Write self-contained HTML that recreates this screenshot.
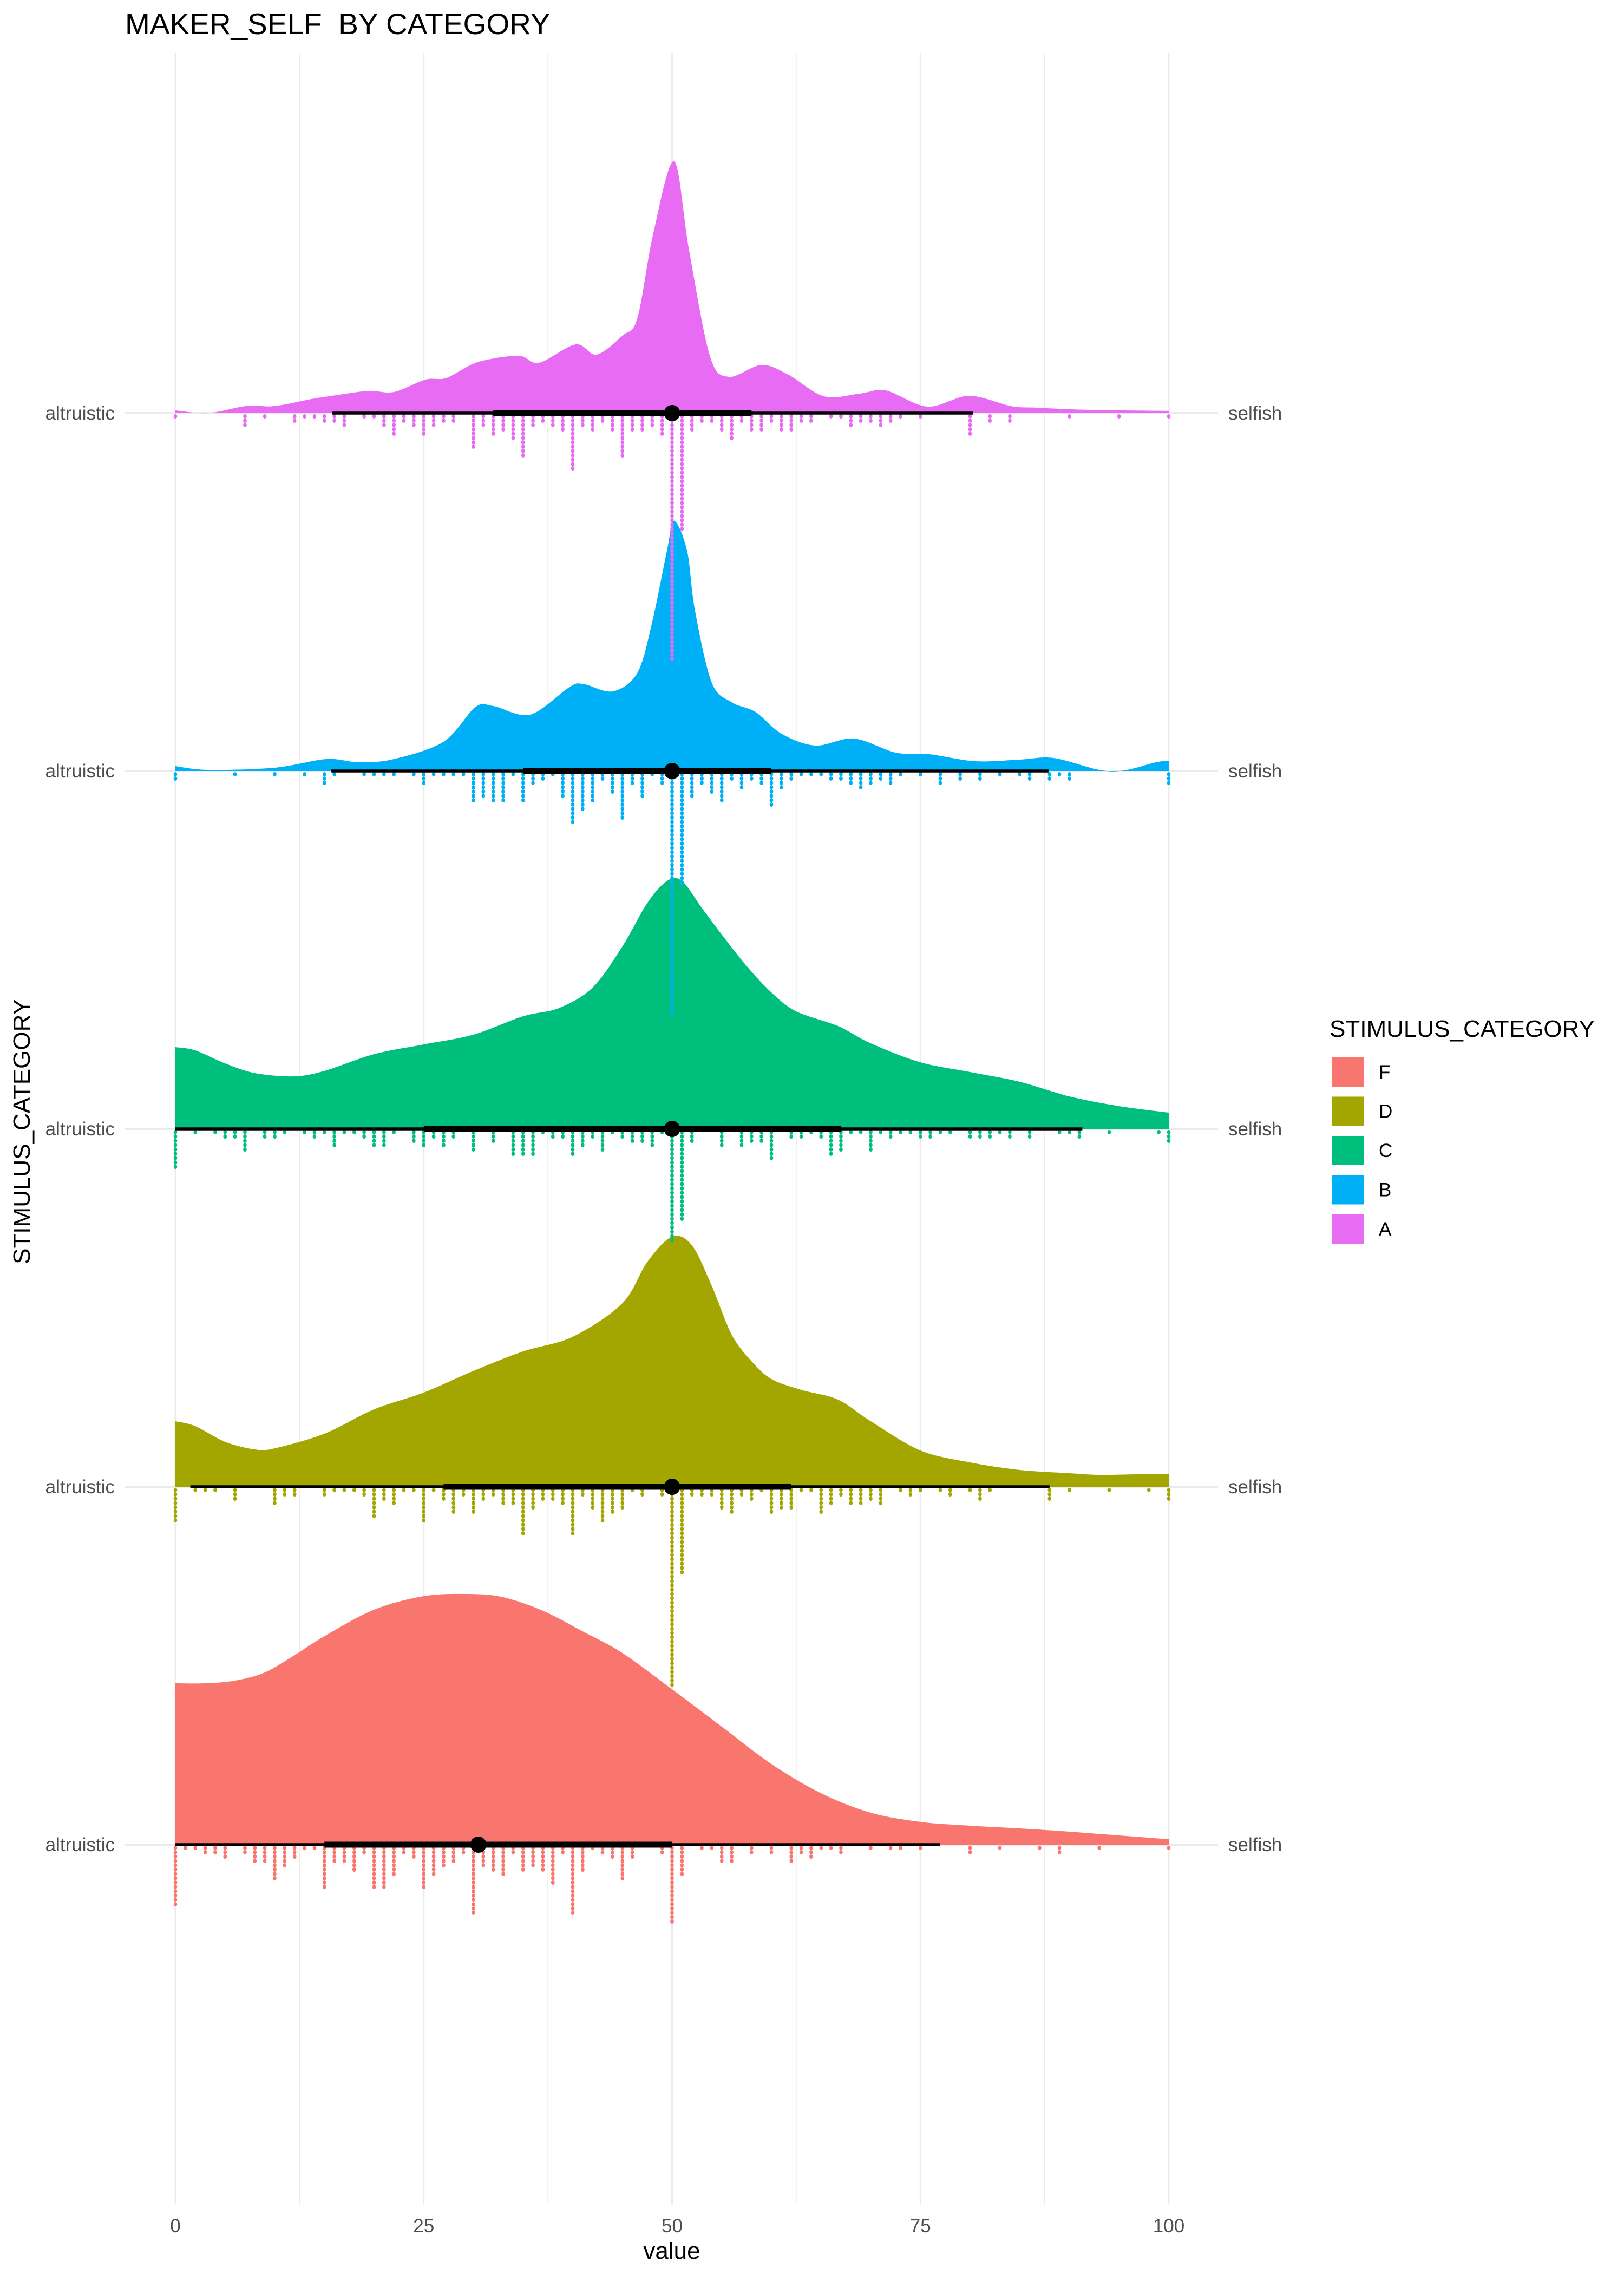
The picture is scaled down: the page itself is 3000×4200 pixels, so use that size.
<!DOCTYPE html>
<html><head><meta charset="utf-8"><style>
html,body{margin:0;padding:0;background:#fff;}
svg{display:block;font-family:"Liberation Sans",sans-serif;}
</style></head><body>
<svg id="chart" width="3000" height="4200" viewBox="0 0 3000 4200" xmlns="http://www.w3.org/2000/svg">
<rect width="3000" height="4200" fill="#fff"/>
<text x="231" y="63" font-size="55" fill="#000" xml:space="preserve" style="white-space:pre">MAKER_SELF  BY CATEGORY</text>
<g id="grid"></g>
<g id="rows"></g>
<g id="axes"></g>
<text x="1241" y="4172" font-size="44" text-anchor="middle" fill="#000">value</text>
<text transform="translate(55,2090) rotate(-90)" font-size="44" text-anchor="middle" fill="#000">STIMULUS_CATEGORY</text>
<g id="legend">
<text x="2456" y="1915" font-size="44" fill="#000">STIMULUS_CATEGORY</text>
</g>
</svg>
<script>
const categories = ["F","D","C","B","A"];
const colors = ["#F8766D","#A3A500","#00BF7D","#00B0F6","#E76BF3"];
const xTicks = [0,25,50,75,100];
const xTickLabels = ["0","25","50","75","100"];
const densA_x = [0,3.3,7.1,10,13.7,15.8,19.4,22,25.2,27.3,30.4,34.5,36.6,40.3,42.4,45,46.5,48.1,50.2,51.7,53.8,55.7,59,61.7,65.3,68.9,71.5,75.7,79.9,84.1,86.7,91.9,100];
const densA_y = [5,0,13,13,26,32,41,39,62,65,94,106,93,127,108,143,175,331,465,302,106,67,89,71,31,36,42,12,32,13,10,6,4];
const densB_x = [0,3.3,10,15.2,18.5,22,27,30.2,32,35.7,39.6,41,44,46.5,48,49.5,50.2,51.5,52.3,54,56,58.4,61,64.4,68.3,72.5,75.9,80.5,85,88.4,93,95.5,98.7,100];
const densB_y = [9,2,6,22,16,22,54,118,120,104,154,161,147,181,275,408,462,408,297,163,127,109,69,47,60,34,31,18,21,24,2,1,16,19];
const densC_x = [0,2,5,8,11.9,15,20,25,30,35,38.6,42,45,47.5,49.5,51,53,55,57.5,60,62.5,66.7,70,75,80,85,90,95,100];
const densC_y = [151,145,121,103,97,107,138,156,174,208,223,261,337,417,458,458,408,359,301,252,217,190,158,123,105,87,60,42,30];
const densD_x = [0,2,5,8,10,15,20,25,30,35,40,45,47.5,50,52,54,56,58,60,63,66.7,70,75,80,85,90,93,97,100];
const densD_y = [121,112,83,69,71,98,143,174,214,250,277,339,415,462,446,371,281,232,199,179,161,121,67,45,31,25,22,23,23];
const densF_x = [0,3,6,9,12,15,20,25,29.5,33,37,41,45,50,55,60,65,70,75,80,85,90,95,100];
const densF_y = [298,298,303,318,350,385,434,459,463,457,432,394,354,287,218,149,95,59,42,35,30,24,17,10];
const dotsF = [[0,14],[1,1],[2,1],[3,2],[4,2],[5,3],[7,2],[8,4],[9,4],[10,8],[11,5],[12,3],[13,1],[14,1],[15,10],[16,4],[17,4],[18,6],[19,2],[20,10],[21,10],[22,7],[23,2],[24,3],[25,10],[26,7],[27,5],[28,4],[29,2],[30,16],[31,5],[32,6],[33,7],[34,2],[35,6],[36,5],[37,6],[38,9],[39,2],[40,16],[41,6],[42,1],[43,2],[44,3],[45,8],[46,3],[49,2],[50,18],[51,7],[53,1],[54,1],[55,4],[56,4],[58,2],[60,2],[62,4],[63,2],[64,3],[65,1],[66,1],[67,2],[70,1],[72,1],[73,1],[75,1],[80,2],[83,1],[87,1],[89,2],[93,1],[100,1]];
const dotsD = [[0,8],[2,1],[3,1],[4,1],[6,3],[10,4],[11,2],[12,2],[15,2],[16,1],[17,1],[18,1],[19,2],[20,7],[21,3],[22,4],[23,1],[24,1],[25,8],[26,1],[27,3],[28,6],[29,2],[30,6],[31,3],[32,2],[33,4],[34,4],[35,11],[36,5],[37,3],[38,3],[39,4],[40,11],[41,2],[42,5],[43,8],[44,6],[45,5],[46,1],[47,2],[49,2],[50,46],[51,20],[52,2],[53,2],[54,2],[55,5],[56,6],[57,2],[58,3],[59,1],[60,6],[61,5],[62,5],[63,1],[64,1],[65,6],[66,4],[67,2],[68,4],[69,4],[70,3],[71,4],[73,1],[74,2],[75,1],[77,1],[78,2],[80,1],[81,3],[82,1],[88,3],[90,1],[94,1],[98,1],[100,3]];
const dotsC = [[0,9],[2,1],[4,1],[5,2],[6,2],[7,5],[9,2],[10,2],[11,1],[13,1],[14,2],[15,1],[16,4],[17,1],[18,1],[19,2],[20,4],[21,4],[22,1],[24,3],[25,4],[26,2],[27,4],[28,2],[30,5],[32,3],[34,6],[35,6],[36,6],[37,1],[38,2],[39,2],[40,6],[41,4],[42,2],[43,5],[44,1],[45,2],[46,3],[47,3],[48,4],[49,1],[50,26],[51,21],[52,3],[55,4],[57,4],[58,3],[59,3],[60,7],[62,2],[63,2],[64,1],[65,2],[66,6],[67,5],[68,1],[69,1],[70,5],[71,1],[72,2],[73,1],[74,1],[75,2],[76,2],[77,1],[78,1],[80,2],[81,2],[82,2],[83,1],[84,2],[86,2],[89,1],[90,1],[91,2],[94,1],[99,1],[100,3]];
const dotsB = [[0,2],[6,1],[10,1],[13,1],[15,3],[16,1],[19,1],[20,1],[21,1],[22,1],[24,1],[25,3],[26,1],[27,1],[28,1],[29,1],[30,7],[31,6],[32,7],[33,7],[34,1],[35,7],[36,3],[37,2],[38,1],[39,6],[40,12],[41,9],[42,7],[43,2],[44,5],[45,11],[46,3],[47,6],[48,1],[49,3],[50,56],[51,26],[52,6],[53,3],[54,5],[55,7],[56,2],[57,4],[58,2],[59,3],[60,8],[61,4],[62,2],[63,1],[64,1],[65,1],[66,2],[67,2],[68,3],[69,4],[70,3],[71,2],[72,3],[73,1],[75,1],[77,3],[79,2],[81,2],[83,1],[85,1],[86,2],[88,2],[89,1],[90,2],[100,3]];
const dotsA = [[0,1],[7,3],[9,1],[12,2],[13,1],[14,1],[15,2],[16,2],[17,3],[19,1],[20,1],[21,3],[22,5],[23,2],[24,3],[25,5],[26,3],[27,2],[28,2],[30,8],[31,3],[32,5],[33,4],[34,6],[35,10],[36,3],[37,2],[38,3],[39,4],[40,13],[41,3],[42,4],[43,2],[44,4],[45,10],[46,4],[47,4],[48,3],[49,5],[50,57],[51,27],[52,4],[53,2],[54,2],[55,4],[56,6],[57,2],[58,4],[59,4],[60,2],[61,4],[62,4],[63,2],[64,2],[66,1],[67,1],[68,3],[69,2],[70,2],[71,3],[72,2],[73,1],[75,1],[80,5],[82,2],[84,2],[90,1],[95,1],[100,1]];
const intF = [0,77,15,50,30.5];
const intD = [1.5,88,27,62,50];
const intC = [0,91.3,25,67,50];
const intB = [15.7,87.9,35,60,50];
const intA = [15.8,80.3,32,58,50];

const densX = [densF_x,densD_x,densC_x,densB_x,densA_x];
const densY = [densF_y,densD_y,densC_y,densB_y,densA_y];
const dots = [dotsF,dotsD,dotsC,dotsB,dotsA];
const ints = [intF,intD,intC,intB,intA];

const NS="http://www.w3.org/2000/svg";
function xs(v){return 324+v*18.35;}
function ys(i){return 3407-i*661;}
function hs(d){return d;}
function mk(tag,attrs,parent){const e=document.createElementNS(NS,tag);for(const k in attrs)e.setAttribute(k,attrs[k]);parent.appendChild(e);return e;}

const grid=document.getElementById('grid');
for(let v=12.5;v<100;v+=25){
  const l=mk('line',{x1:xs(v),x2:xs(v),y1:98,y2:4070,stroke:'#ebebeb','stroke-width':1.5},grid);
  
  
}
xTicks.forEach((v,i)=>{
  const l=mk('line',{x1:xs(v),x2:xs(v),y1:98,y2:4070,stroke:'#ebebeb','stroke-width':3},grid);
  
  
});
categories.forEach((c,i)=>{
  const l=mk('line',{x1:231,x2:2250,y1:ys(i),y2:ys(i),stroke:'#ebebeb','stroke-width':4},grid);
  
  
});

function smoothPath(pts){
  let d='M'+pts[0][0]+','+pts[0][1];
  for(let i=0;i<pts.length-1;i++){
    const p0=pts[Math.max(0,i-1)],p1=pts[i],p2=pts[i+1],p3=pts[Math.min(pts.length-1,i+2)];
    const t=0.16;
    let c1y=p1[1]+(p2[1]-p0[1])*t, c2y=p2[1]-(p3[1]-p1[1])*t;
    d+=' C'+(p1[0]+(p2[0]-p0[0])*t)+','+c1y+' '+(p2[0]-(p3[0]-p1[0])*t)+','+c2y+' '+p2[0]+','+p2[1];
  }
  return d;
}

const rows=document.getElementById('rows');
categories.forEach((c,i)=>{
  const g=mk('g',{},rows);
  
  
  const base=ys(i);
  const pts=densX[i].map((x,k)=>[xs(x),base-hs(densY[i][k])]);
  const d=smoothPath(pts)+' L'+xs(densX[i][densX[i].length-1])+','+base+' L'+xs(densX[i][0])+','+base+' Z';
  const p=mk('path',{d:d,fill:colors[i]},g);
  
  
});
categories.forEach((c,i)=>{
  const g=mk('g',{fill:colors[i]},rows);
  
  
  const base=ys(i);
  dots[i].forEach(([v,n])=>{
    for(let k=0;k<n;k++){
      const e=mk('ellipse',{cx:xs(v),cy:base+6+k*8,rx:3.3,ry:4},g);
      
      
    }
  });
});
categories.forEach((c,i)=>{
  const g=mk('g',{},rows);
  
  
  const base=ys(i), iv=ints[i];
  const a=mk('line',{x1:xs(iv[0]),x2:xs(iv[1]),y1:base,y2:base,stroke:'#000','stroke-width':5.5},g);
  
  
  const b=mk('line',{x1:xs(iv[2]),x2:xs(iv[3]),y1:base,y2:base,stroke:'#000','stroke-width':11},g);
  
  
  const m=mk('circle',{cx:xs(iv[4]),cy:base,r:15,fill:'#000'},g);
  
  
});

const axes=document.getElementById('axes');
xTicks.forEach((v,i)=>{
  const t=mk('text',{x:xs(v),y:4123,'font-size':35,'text-anchor':'middle',fill:'#4d4d4d'},axes);
  t.textContent=xTickLabels[i];
  
  
});
categories.forEach((c,i)=>{
  const t=mk('text',{x:212,y:ys(i)+12,'font-size':35,'text-anchor':'end',fill:'#4d4d4d'},axes);
  t.textContent='altruistic';
  
  
  const s=mk('text',{x:2269,y:ys(i)+12,'font-size':35,fill:'#4d4d4d'},axes);
  s.textContent='selfish';
  
  
});

const legend=document.getElementById('legend');
categories.forEach((c,i)=>{
  const cy=1980+i*72.5;
  const r=mk('rect',{x:2461,y:cy-27,width:58,height:54,fill:colors[i]},legend);
  
  
  const t=mk('text',{x:2547,y:cy+12,'font-size':35,fill:'#000'},legend);
  t.textContent=c;
  
  
});
</script>
</body></html>
